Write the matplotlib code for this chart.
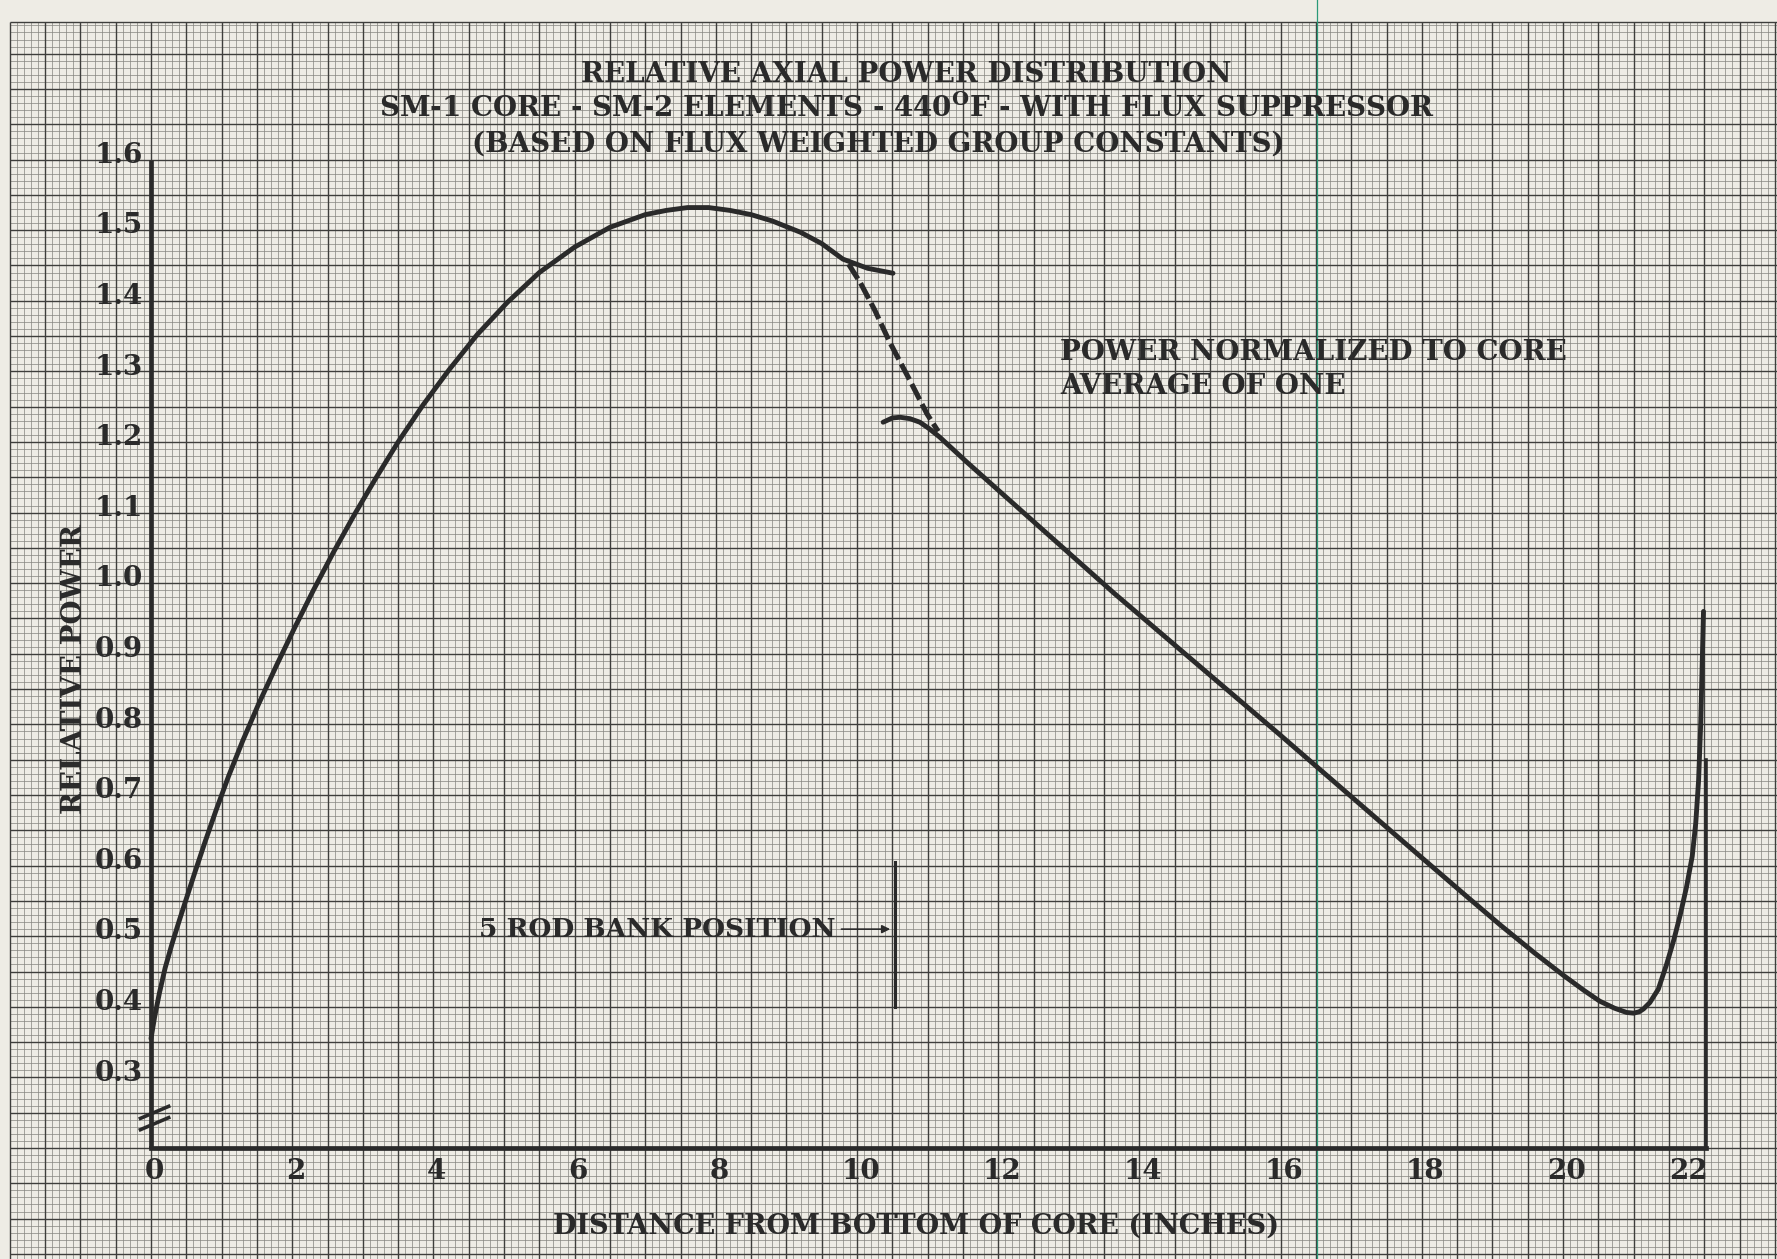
import numpy as np
import matplotlib.pyplot as plt

plt.rcParams['font.family'] = 'DejaVu Serif'
plt.rcParams['mathtext.fontset'] = 'dejavuserif'

# relative power vs distance from bottom of core (inches)
rise_x = [0.0, 0.05, 0.12, 0.2, 0.3, 0.4, 0.5, 0.62, 0.76, 0.92, 1.1, 1.3, 1.52, 1.78, 2.03,
          2.3, 2.58, 2.88, 3.18, 3.5, 3.85, 4.22, 4.62, 5.05, 5.5, 6.0, 6.5, 7.0, 7.3, 7.6,
          7.9, 8.2, 8.5, 8.8, 9.2, 9.5, 9.8, 10.15, 10.51]
rise_y = [0.355, 0.385, 0.42, 0.455, 0.49, 0.522, 0.553, 0.59, 0.632, 0.678, 0.727, 0.777, 0.828,
          0.884, 0.936, 0.99, 1.043, 1.097, 1.148, 1.2, 1.252, 1.302, 1.352, 1.398, 1.44, 1.476,
          1.504, 1.522, 1.528, 1.532, 1.532, 1.528, 1.522, 1.513, 1.497, 1.481, 1.459, 1.446, 1.439]

# transition across the rod bank
trans_x = [9.88, 10.05, 10.25, 10.46, 10.75, 10.99, 11.15]
trans_y = [1.452, 1.425, 1.387, 1.342, 1.287, 1.24, 1.215]

fall_x = [10.37, 10.5, 10.61, 10.75, 10.89, 11.02, 11.17, 11.55, 12.02, 13.65, 15.97, 17.99, 18.64,
          19.11, 19.6, 20.0, 20.3, 20.52, 20.73, 20.9, 21.0, 21.08, 21.14, 21.23, 21.35, 21.47,
          21.57, 21.66, 21.75, 21.83, 21.88, 21.92, 21.95, 21.97, 21.99]
fall_y = [1.228, 1.234, 1.235, 1.233, 1.228, 1.219, 1.207, 1.172, 1.13, 0.985, 0.787, 0.612, 0.556,
          0.516, 0.476, 0.445, 0.423, 0.408, 0.398, 0.392, 0.391, 0.393, 0.397, 0.406, 0.425, 0.461,
          0.495, 0.53, 0.57, 0.613, 0.66, 0.72, 0.80, 0.88, 0.96]

x_ticks = [0, 2, 4, 6, 8, 10, 12, 14, 16, 18, 20, 22]
y_ticks = [0.3, 0.4, 0.5, 0.6, 0.7, 0.8, 0.9, 1.0, 1.1, 1.2, 1.3, 1.4, 1.5, 1.6]

rod_bank_x = 10.54
rod_bank_span = (0.40, 0.605)

paper = '#eeece5'
ink = '#2a2a2a'

fig = plt.figure(figsize=(17.77, 12.59), dpi=100, facecolor=paper)
ax = fig.add_axes([0, 0, 1, 1])
ax.set_facecolor(paper)
ax.set_xlim(-2.139, 23.031)
ax.set_ylim(0.0428, 1.826)
ax.axis('off')

# graph paper: fine ruling every 0.1 in / 0.01, heavier every 0.5 in / 0.05
x_left, y_top = -2.0, 1.795
xs = np.round(np.arange(x_left, 23.1, 0.1), 2)
ys = np.round(np.arange(0.04, y_top + 0.001, 0.01), 3)
minor_x = [v for v in xs if abs(v * 2 - round(v * 2)) > 1e-6]
major_x = [v for v in xs if abs(v * 2 - round(v * 2)) <= 1e-6]
minor_y = [v for v in ys if abs(v * 20 - round(v * 20)) > 1e-6]
major_y = [v for v in ys if abs(v * 20 - round(v * 20)) <= 1e-6]
ax.vlines(minor_x, 0, y_top, color='#85847f', lw=0.5, zorder=1)
ax.hlines(minor_y, x_left, 24, color='#85847f', lw=0.5, zorder=1)
ax.vlines(major_x, 0, y_top, color='#3e3e3c', lw=1.0, zorder=2)
ax.hlines(major_y + [y_top], x_left, 24, color='#3e3e3c', lw=1.0, zorder=2)
ax.axvline(16.52, color='#2a9a78', lw=0.9, zorder=2)

# axes
ax.plot([0, 0], [0.2, 1.6], color=ink, lw=3.4, solid_capstyle='butt', zorder=4)
ax.plot([0, 22.02], [0.2, 0.2], color=ink, lw=3.4, solid_capstyle='projecting', zorder=4)
ax.plot([22.02, 22.02], [0.2, 0.75], color=ink, lw=2.6, zorder=4)

# axis break marks
for off in (0.0, 0.016):
    ax.plot([-0.15, 0.25], [0.226 + off, 0.243 + off], color=ink, lw=2.6, zorder=5)

# curves
ax.plot(rise_x, rise_y, color=ink, lw=3.5, solid_capstyle='round', solid_joinstyle='round', zorder=6)
ax.plot(trans_x, trans_y, color=ink, lw=3.7, dashes=(3.4, 1.0), zorder=6)
ax.plot(fall_x, fall_y, color=ink, lw=3.5, solid_capstyle='round', solid_joinstyle='round', zorder=6)

# rod bank marker
ax.plot([rod_bank_x, rod_bank_x], rod_bank_span, color=ink, lw=2.2, zorder=6)
ax.annotate('', xy=(rod_bank_x - 0.03, 0.51), xytext=(9.74, 0.51),
            arrowprops=dict(arrowstyle='-|>', color=ink, lw=1.2, mutation_scale=12), zorder=6)
ax.text(9.70, 0.51, '5 ROD BANK POSITION', ha='right', va='center', fontsize=19,
        fontweight='bold', color=ink, zorder=7)

# tick labels
for t in x_ticks:
    shift = -0.22 if t == x_ticks[-1] else 0.05
    ax.text(t + shift, 0.167, str(t), ha='center', va='center', fontsize=20,
            fontweight='bold', color=ink, zorder=7)
for t in y_ticks:
    ax.text(-0.12, t + 0.006, f'{t:.1f}', ha='right', va='center', fontsize=20,
            fontweight='bold', color=ink, zorder=7)

ax.text(-1.086, 0.878, 'RELATIVE POWER', rotation=90, ha='center', va='center', fontsize=20,
        fontweight='bold', color=ink, zorder=7)
ax.text(10.84, 0.09, 'DISTANCE FROM BOTTOM OF CORE (INCHES)', ha='center', va='center',
        fontsize=19.5, fontweight='bold', color=ink, zorder=7)

# title block
title_lines = ['RELATIVE AXIAL POWER DISTRIBUTION',
               r'SM-1 CORE - SM-2 ELEMENTS - 440$^{\mathbf{O}}$F - WITH FLUX SUPPRESSOR',
               '(BASED ON FLUX WEIGHTED GROUP CONSTANTS)']
for line, xv, yv in zip(title_lines, [10.7, 10.7, 10.3], [1.721, 1.673, 1.622]):
    ax.text(xv, yv, line, ha='center', va='center', fontsize=20, fontweight='bold',
            color=ink, zorder=7)

ax.text(12.88, 1.327, 'POWER NORMALIZED TO CORE', ha='left', va='center',
        fontsize=20, fontweight='bold', color=ink, zorder=7)
ax.text(12.88, 1.278, 'AVERAGE OF ONE', ha='left', va='center',
        fontsize=20, fontweight='bold', color=ink, zorder=7)

fig.savefig('out.png', dpi=100, facecolor=paper)
